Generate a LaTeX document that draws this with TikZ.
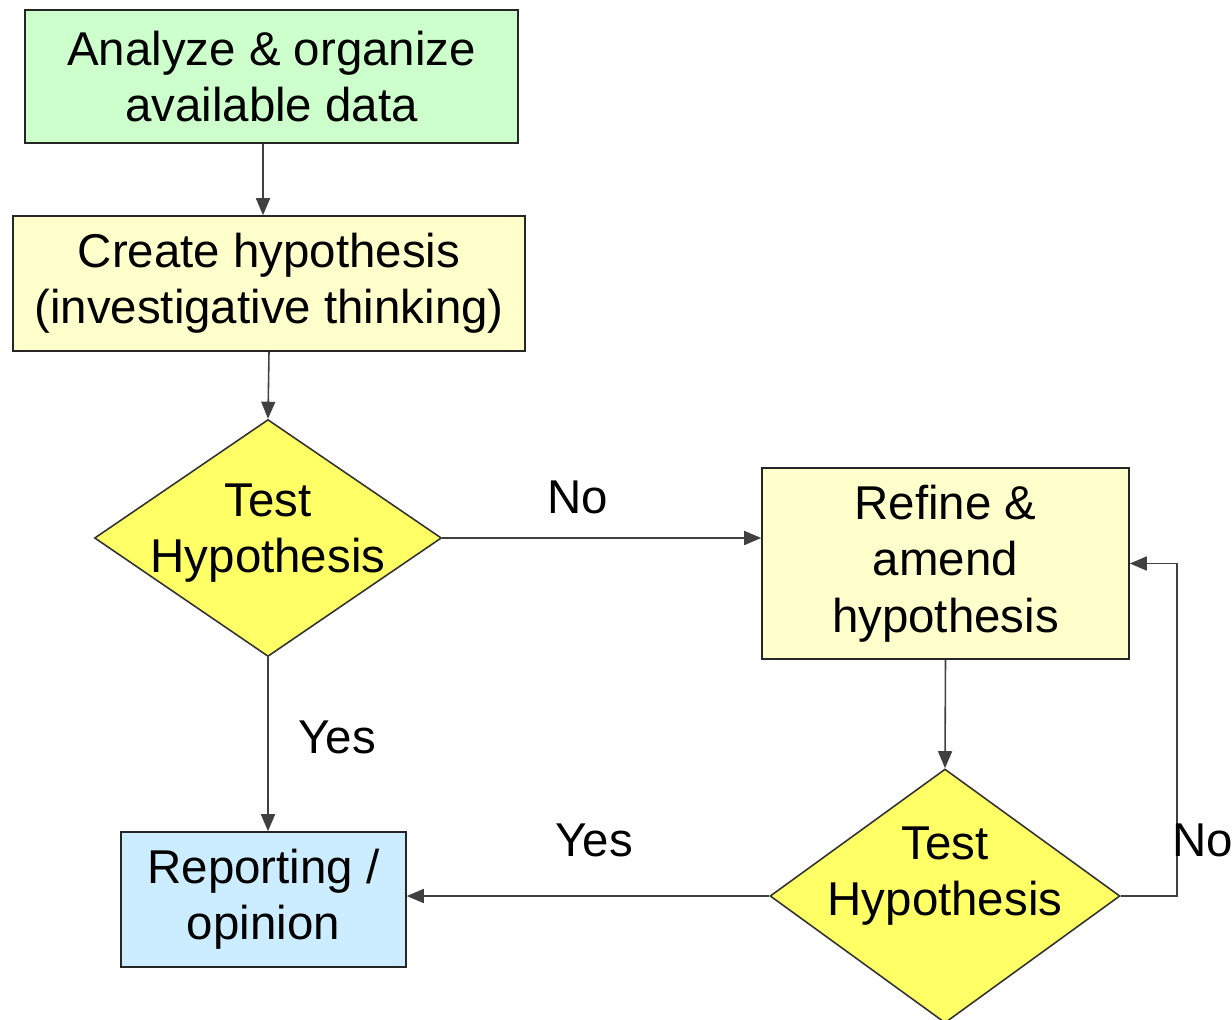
\documentclass[tikz,border=0pt]{standalone}
\usepackage{fontspec}
\setmainfont{Liberation Sans}
\usetikzlibrary{arrows.meta,positioning,shapes.geometric,calc}
\definecolor{datagreen}{HTML}{CCFFCC}
\definecolor{paleyellow}{HTML}{FFFFCC}
\definecolor{testyellow}{HTML}{FFFF66}
\definecolor{reportblue}{HTML}{CCECFF}

\begin{document}
\begin{tikzpicture}[
    font=\fontsize{27}{32}\selectfont,
    procbox/.style={draw=black!85, line width=0.9pt, align=center, inner sep=0pt},
    testbox/.style={draw=black!80, line width=0.9pt, diamond, fill=testyellow, inner sep=0pt},
    lbl/.style={inner sep=0pt},
    arrow/.style={-{Triangle[length=3.4mm, width=2.8mm]}, line width=0.9pt, black!75}
]
\useasboundingbox (0,0) rectangle (24.64,-20.4);

\node[procbox, fill=datagreen, minimum width=9.86cm, minimum height=2.66cm] (analyze) at (5.43, -1.53) {Analyze \& organize\\available data};
\node[procbox, fill=paleyellow, minimum width=10.24cm, minimum height=2.70cm] (create) at (5.38, -5.67) {Create hypothesis\\(investigative thinking)};
\node[testbox, minimum width=6.94cm, minimum height=4.74cm, label={[align=center, yshift=0.1cm]center:Test\\Hypothesis}] (test1) at (5.36, -10.76) {};
\node[procbox, fill=paleyellow, minimum width=7.34cm, minimum height=3.82cm] (refine) at (18.91, -11.27) {Refine \&\\amend\\hypothesis};
\node[testbox, minimum width=7.0cm, minimum height=5.08cm, label={[align=center, yshift=0.4cm]center:Test\\Hypothesis}] (test2) at (18.90, -17.92) {};
\node[procbox, fill=reportblue, minimum width=5.70cm, minimum height=2.70cm] (report) at (5.27, -17.99) {Reporting /\\opinion};

\draw[arrow] ([xshift=-0.17cm]analyze.south) -- ([xshift=-0.17cm]analyze.south |- create.north);
\draw[arrow] (create.south) -- (test1.north);
\draw[arrow] (test1.east) -- (test1.east -| refine.west);
\draw[arrow] (test1.south) -- (test1.south |- report.north);
\draw[arrow] (refine.south) -- (test2.north);
\draw[arrow] (test2.west) -- (test2.west -| report.east);
\draw[arrow] (test2.east) -- ++(1.12,0) |- (refine.east);

\node[lbl] (no1) at (11.56, -9.94) {No};
\node[lbl] (yes1) at (6.74, -14.74) {Yes};
\node[lbl] (yes2) at (11.88, -16.80) {Yes};
\node[lbl, anchor=west] (no2) at (23.44, -16.80) {No};
\end{tikzpicture}
\end{document}
